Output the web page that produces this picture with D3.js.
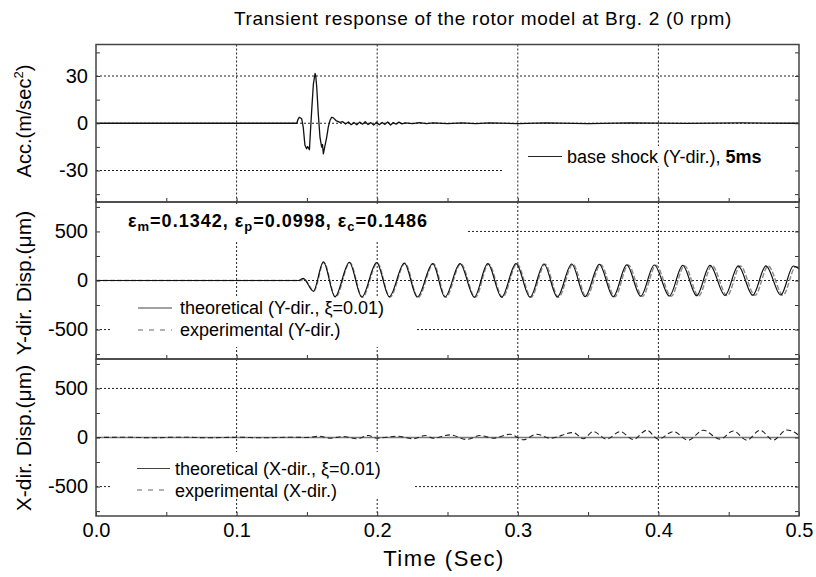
<!DOCTYPE html>
<html><head><meta charset="utf-8">
<script src="https://cdn.jsdelivr.net/npm/d3@7"></script>
<style>
body{margin:0;background:#fff}
svg{display:block}
text{font-family:"Liberation Sans",Arial,sans-serif;fill:#000}
</style>
</head><body>
<svg id="c" width="816" height="577"></svg>
<script>
// ---------------- data ----------------
const title = "Transient response of the rotor model at Brg. 2 (0 rpm)";
const xTicks = [0, 0.1, 0.2, 0.3, 0.4, 0.5];
const xMinorTicks = [0.05, 0.15, 0.25, 0.35, 0.45];
const accTicks = [-30, 0, 30];
const accMinorTicks = [-45, -15, 15, 45];
const dispTicks = [-500, 0, 500];
const dispMinorTicks = [-750, -250, 250, 750];

const accTime = [0, 0.1428, 0.1437, 0.1446, 0.1455, 0.1463, 0.1474, 0.1486, 0.1498, 0.1505, 0.1510,
  0.1518, 0.1526, 0.1534, 0.1546, 0.1558, 0.1563, 0.1570, 0.1581, 0.1593, 0.1605,
  0.1611, 0.1617, 0.1629, 0.1641, 0.1652, 0.1664, 0.1676, 0.1688, 0.1707, 0.1735,
  0.1755, 0.1775, 0.1795, 0.1815, 0.1835, 0.1855, 0.1875, 0.1895, 0.1915, 0.1935, 0.1955,
  0.1975, 0.1995, 0.2015, 0.2035, 0.2055, 0.2075, 0.2095, 0.2115, 0.2135, 0.2155, 0.2175,
  0.2200, 0.2250, 0.2300, 0.2350, 0.2400, 0.2500, 0.2600, 0.2700, 0.2800,
  0.3000, 0.3200, 0.3500, 0.3800, 0.4200, 0.4600, 0.5000];
const accValue = [0, 0, 2.5, 3.8, 3.3, 2.8, -2.5, -14, -16.2, -14.8, -15.5,
  -16.8, -4, 8, 24.9, 31.6, 30, 22.7, 5.9, -8.8, -15.2,
  -13.5, -19.4, -14, -8.8, -2.5, 1.7, 3.8, 3.4, 1.7, 0.6,
  1.0, -0.5, 0.8, -0.9, 0.5, -1.0, 0.7, -0.6, 1.0, -0.8, 0.4,
  -1.2, 0.6, -0.9, 0.5, -0.7, 0.8, -1.1, 0.4, -0.6, 0.7, -0.4,
  0.3, -0.3, 0.4, -0.2, 0.3, -0.3, 0.2, -0.2, 0.3,
  -0.2, 0.2, -0.2, 0.2, -0.1, 0.2, 0];

const yTheoTime = [0, 0.1440, 0.1474, 0.1546, 0.1617, 0.1700, 0.1802, 0.1890, 0.1996, 0.2086,
  0.2193, 0.2285, 0.2395, 0.2482, 0.2589, 0.2691, 0.2786, 0.2885, 0.2987, 0.3087,
  0.3186, 0.3281, 0.3383, 0.3478, 0.3580, 0.3679, 0.3775, 0.3874, 0.3971, 0.4078,
  0.4173, 0.4272, 0.4367, 0.4474, 0.4568, 0.4671, 0.4765, 0.4870, 0.4960, 0.5000];
const yTheoValue = [0, 0, 22, -110, 190, -165, 185, -168, 182, -165,
  178, -168, 172, -168, 172, -170, 172, -170, 172, -170,
  168, -168, 168, -165, 165, -165, 160, -160, 158, -158,
  155, -155, 155, -152, 150, -150, 150, -148, 148, 120];

const yExpTime = [0, 0.1460, 0.1478, 0.1550, 0.1621, 0.1704, 0.1806, 0.1895, 0.2001, 0.2091,
  0.2198, 0.2291, 0.2401, 0.2488, 0.2595, 0.2698, 0.2793, 0.2892, 0.2994, 0.3095,
  0.3194, 0.3290, 0.3392, 0.3488, 0.3590, 0.3690, 0.3786, 0.3886, 0.3983, 0.4091,
  0.4186, 0.4286, 0.4381, 0.4489, 0.4583, 0.4687, 0.4781, 0.4886, 0.4977, 0.5000];
const yExpValue = [0, 0, 15, -105, 185, -170, 182, -172, 178, -170,
  175, -172, 170, -172, 170, -172, 168, -172, 170, -170,
  165, -170, 165, -168, 162, -165, 158, -162, 155, -160,
  152, -158, 152, -155, 148, -152, 148, -150, 140, 135];

const xTheoTime = [0, 0.5];
const xTheoValue = [0, 0];
const xExpTime = [0, 0.0200, 0.0400, 0.0600, 0.0800, 0.1000, 0.1200, 0.1400, 0.1500,
  0.1593, 0.1664, 0.1759, 0.1854, 0.1937, 0.1996, 0.2139, 0.2257, 0.2340, 0.2399, 0.2518,
  0.2637, 0.2731, 0.2826, 0.2945, 0.3039, 0.3134, 0.3229, 0.3395, 0.3466, 0.3537,
  0.3632, 0.3727, 0.3822, 0.3917, 0.3999, 0.4106, 0.4213, 0.4319, 0.4438, 0.4533,
  0.4628, 0.4723, 0.4817, 0.4912, 0.4972, 0.5000];
const xExpValue = [0, 2, -2, 3, -2, 2, -3, 3, 0,
  13, -7, 10, -13, 20, -7, 13, -13, 20, -7, 27,
  -20, 20, -7, 33, -23, 33, -7, 50, -13, 60,
  -17, 60, -20, 74, -17, 60, -27, 74, -17, 67,
  -27, 74, -27, 77, 50, 20];

// ---------------- layout ----------------
const svg = d3.select("#c");
const X0 = 96, X1 = 799;
const x = d3.scaleLinear().domain([0, 0.5]).range([X0, X1]);
const panels = [
  {y: d3.scaleLinear().domain([-50, 50]).range([202, 44.5]), major: accTicks, minor: accMinorTicks},
  {y: d3.scaleLinear().domain([-800, 800]).range([359, 202]), major: dispTicks, minor: dispMinorTicks},
  {y: d3.scaleLinear().domain([-800, 800]).range([516, 359]), major: dispTicks, minor: dispMinorTicks}
];
const gridColor = "#222", gridDash = "2,2";
const FONT = 20;

function hGrid(p, v, x0, x1) {
  svg.append("line").attr("x1", x0 == null ? X0 : x0).attr("x2", x1 == null ? X1 : x1)
    .attr("y1", p.y(v)).attr("y2", p.y(v))
    .attr("stroke", gridColor).attr("stroke-width", 1).attr("stroke-dasharray", gridDash);
}
function vGrid(p) {
  const [b, t] = p.y.range();
  svg.append("g").selectAll("line").data(xTicks.slice(1, -1)).join("line")
    .attr("x1", d => x(d)).attr("x2", d => x(d)).attr("y1", t).attr("y2", b)
    .attr("stroke", gridColor).attr("stroke-width", 1).attr("stroke-dasharray", gridDash);
}
function whiteBox(x0, y0, x1, y1) {
  svg.append("rect").attr("x", x0).attr("y", y0).attr("width", x1 - x0).attr("height", y1 - y0).attr("fill", "#fff");
}
function series(p, ts, vs, opts) {
  const pts = ts.map((t, i) => [t, vs[i]]);
  const line = d3.line().x(d => x(d[0])).y(d => p.y(d[1])).curve(opts.curve || d3.curveLinear);
  svg.append("path").datum(pts).attr("d", line).attr("fill", "none")
    .attr("stroke", opts.color).attr("stroke-width", opts.width || 1.2)
    .attr("stroke-dasharray", opts.dash || null).attr("stroke-linejoin", "round");
}
const fmt = d => String(d);
function frame(p, labelsX) {
  const [b, t] = p.y.range();
  const gB = svg.append("g").attr("transform", `translate(0,${b})`)
    .call(d3.axisBottom(x).tickValues(xTicks.concat(xMinorTicks)).tickSize(-4).tickFormat(""));
  const gL = svg.append("g").attr("transform", `translate(${X0},0)`)
    .call(d3.axisLeft(p.y).tickValues(p.major.concat(p.minor)).tickSize(-4).tickFormat(""));
  const gR = svg.append("g").attr("transform", `translate(${X1},0)`)
    .call(d3.axisRight(p.y).tickValues(p.major.concat(p.minor)).tickSize(-4).tickFormat(""));
  [gB, gL, gR].forEach(g => { g.select(".domain").remove(); g.selectAll("line").attr("stroke", "#333").attr("stroke-width", 1); });
  const yl = svg.append("g").attr("transform", `translate(${X0},0)`)
    .call(d3.axisLeft(p.y).tickValues(p.major).tickSize(0).tickPadding(8).tickFormat(fmt));
  yl.select(".domain").remove();
  yl.selectAll("text").attr("font-size", FONT).attr("font-family", null);
  if (labelsX) {
    const xl = svg.append("g").attr("transform", `translate(0,${b})`)
      .call(d3.axisBottom(x).tickValues(xTicks).tickSize(0).tickPadding(7).tickFormat(d3.format(".1f")));
    xl.select(".domain").remove();
    xl.selectAll("text").attr("font-size", FONT).attr("font-family", null);
  }
  svg.append("rect").attr("x", X0).attr("y", t).attr("width", X1 - X0).attr("height", b - t)
    .attr("fill", "none").attr("stroke", "#444").attr("stroke-width", 1.5);
}
function legendLine(x0, x1, y, dash, color) {
  svg.append("line").attr("x1", x0).attr("x2", x1).attr("y1", y).attr("y2", y)
    .attr("stroke", color).attr("stroke-width", 1.2).attr("stroke-dasharray", dash || null);
}
function legendText(xp, y, s, size) {
  return svg.append("text").attr("x", xp).attr("y", y).attr("font-size", size || 18).text(s);
}

const [pA, pY, pX] = panels;

// ---- top panel ----
hGrid(pA, 30); hGrid(pA, 0); hGrid(pA, -30, X0, 502);
vGrid(pA);
whiteBox(563, 146, 772, 166);
series(pA, accTime, accValue, {color: "#111", width: 1.3});
frame(pA, false);
legendLine(528, 562, 156.5, null, "#222");
const lt = legendText(567, 163, "base shock (Y-dir.), ");
lt.append("tspan").attr("font-weight", "bold").text("5ms");

// ---- middle panel ----
hGrid(pY, 500, 468, X1); hGrid(pY, 0); hGrid(pY, -500, X0, 110); hGrid(pY, -500, 417, X1);
vGrid(pY);
whiteBox(100, 204, 468, 241);
whiteBox(110, 296, 417, 347);
series(pY, yExpTime, yExpValue, {color: "#8a8a8a", width: 1.4, dash: "5,2", curve: d3.curveMonotoneX});
series(pY, yTheoTime, yTheoValue, {color: "#111", width: 1.2, curve: d3.curveMonotoneX});
frame(pY, false);
const eps = svg.append("text").attr("x", 128).attr("y", 227).attr("font-size", 18)
  .attr("font-weight", "bold").attr("letter-spacing", 1);
[["m", "=0.1342, "], ["p", "=0.0998, "], ["c", "=0.1486"]].forEach(([sub, rest]) => {
  eps.append("tspan").text("ε");
  eps.append("tspan").attr("font-size", 13).attr("dy", 4).text(sub);
  eps.append("tspan").attr("dy", -4).text(rest);
});
legendLine(138, 172, 308, null, "#444");
legendText(180, 314, "theoretical (Y-dir., ξ=0.01)");
legendLine(138, 172, 330, "5,6", "#666");
legendText(180, 336, "experimental (Y-dir.)");

// ---- bottom panel ----
hGrid(pX, 500); hGrid(pX, 0); hGrid(pX, -500, X0, 110); hGrid(pX, -500, 415, X1);
vGrid(pX);
whiteBox(110, 452, 415, 499);
series(pX, xTheoTime, xTheoValue, {color: "#7a7a7a", width: 1.6});
series(pX, xExpTime, xExpValue, {color: "#222", width: 1.1, dash: "5,3", curve: d3.curveMonotoneX});
frame(pX, true);
legendLine(137, 170, 468.5, null, "#444");
legendText(175, 475, "theoretical (X-dir., ξ=0.01)");
legendLine(137, 170, 490, "5,6", "#666");
legendText(175, 497, "experimental (X-dir.)");

// ---- titles ----
svg.append("text").attr("x", 483).attr("y", 25).attr("text-anchor", "middle")
  .attr("font-size", 19).attr("letter-spacing", 0.7).text(title);
svg.append("text").attr("x", 444).attr("y", 566).attr("text-anchor", "middle")
  .attr("font-size", 22).attr("letter-spacing", 1.5).text("Time (Sec)");
function yLabel(cy, size, parts) {
  const t = svg.append("text").attr("transform", `translate(31,${cy}) rotate(-90)`)
    .attr("text-anchor", "middle").attr("font-size", size);
  parts(t);
}
yLabel(121, 20, t => { t.append("tspan").text("Acc.(m/sec"); t.append("tspan").attr("font-size", 13).attr("dy", -8).text("2"); t.append("tspan").attr("dy", 8).text(")"); });
yLabel(283, 21, t => t.text("Y-dir. Disp.(μm)"));
yLabel(438, 21, t => t.text("X-dir. Disp.(μm)"));
</script>
</body></html>
